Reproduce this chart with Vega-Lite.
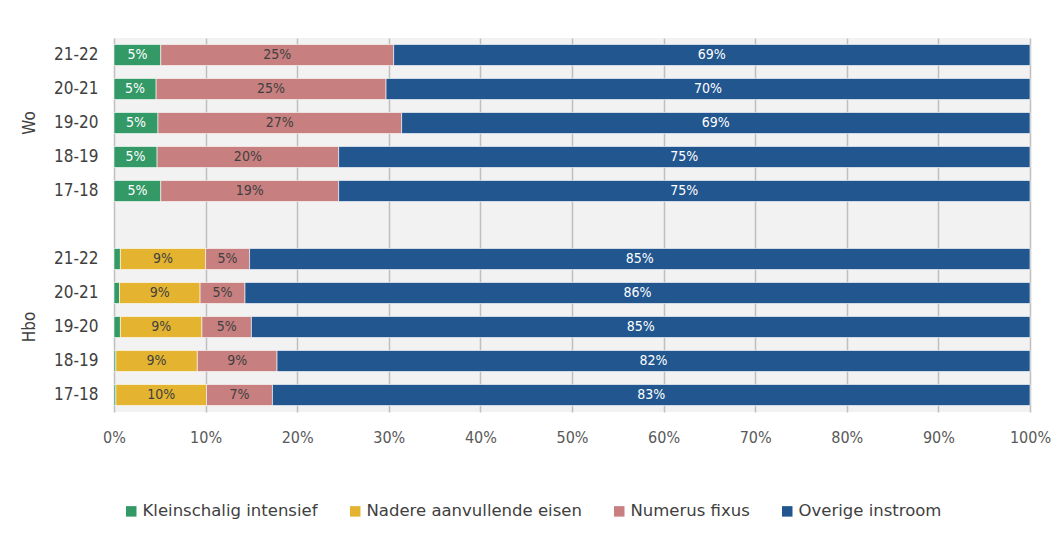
{
  "$schema": "https://vega.github.io/schema/vega-lite/v6.json",
  "width": 916,
  "height": 374,
  "padding": {"left": 20, "top": 38, "right": 10, "bottom": 5},
  "background": "white",
  "config": {
    "view": {"fill": "#f2f2f2", "stroke": null},
    "font": "DejaVu Sans Condensed"
  },
  "data": {
    "values": [
      {"row": "Wo|21-22", "cat": "Kleinschalig intensief", "value": 0.051},
      {"row": "Wo|21-22", "cat": "Numerus fixus", "value": 0.254},
      {"row": "Wo|21-22", "cat": "Overige instroom", "value": 0.694},
      {"row": "Wo|20-21", "cat": "Kleinschalig intensief", "value": 0.046},
      {"row": "Wo|20-21", "cat": "Numerus fixus", "value": 0.251},
      {"row": "Wo|20-21", "cat": "Overige instroom", "value": 0.703},
      {"row": "Wo|19-20", "cat": "Kleinschalig intensief", "value": 0.048},
      {"row": "Wo|19-20", "cat": "Numerus fixus", "value": 0.266},
      {"row": "Wo|19-20", "cat": "Overige instroom", "value": 0.686},
      {"row": "Wo|18-19", "cat": "Kleinschalig intensief", "value": 0.047},
      {"row": "Wo|18-19", "cat": "Numerus fixus", "value": 0.198},
      {"row": "Wo|18-19", "cat": "Overige instroom", "value": 0.754},
      {"row": "Wo|17-18", "cat": "Kleinschalig intensief", "value": 0.051},
      {"row": "Wo|17-18", "cat": "Numerus fixus", "value": 0.194},
      {"row": "Wo|17-18", "cat": "Overige instroom", "value": 0.754},
      {"row": "Hbo|21-22", "cat": "Kleinschalig intensief", "value": 0.007},
      {"row": "Hbo|21-22", "cat": "Nadere aanvullende eisen", "value": 0.093},
      {"row": "Hbo|21-22", "cat": "Numerus fixus", "value": 0.048},
      {"row": "Hbo|21-22", "cat": "Overige instroom", "value": 0.852},
      {"row": "Hbo|20-21", "cat": "Kleinschalig intensief", "value": 0.006},
      {"row": "Hbo|20-21", "cat": "Nadere aanvullende eisen", "value": 0.088},
      {"row": "Hbo|20-21", "cat": "Numerus fixus", "value": 0.049},
      {"row": "Hbo|20-21", "cat": "Overige instroom", "value": 0.857},
      {"row": "Hbo|19-20", "cat": "Kleinschalig intensief", "value": 0.007},
      {"row": "Hbo|19-20", "cat": "Nadere aanvullende eisen", "value": 0.089},
      {"row": "Hbo|19-20", "cat": "Numerus fixus", "value": 0.054},
      {"row": "Hbo|19-20", "cat": "Overige instroom", "value": 0.850},
      {"row": "Hbo|18-19", "cat": "Kleinschalig intensief", "value": 0.002},
      {"row": "Hbo|18-19", "cat": "Nadere aanvullende eisen", "value": 0.089},
      {"row": "Hbo|18-19", "cat": "Numerus fixus", "value": 0.087},
      {"row": "Hbo|18-19", "cat": "Overige instroom", "value": 0.822},
      {"row": "Hbo|17-18", "cat": "Kleinschalig intensief", "value": 0.002},
      {"row": "Hbo|17-18", "cat": "Nadere aanvullende eisen", "value": 0.099},
      {"row": "Hbo|17-18", "cat": "Numerus fixus", "value": 0.072},
      {"row": "Hbo|17-18", "cat": "Overige instroom", "value": 0.827}
    ]
  },
  "layer": [
    {
      "mark": {"type": "bar", "size": 21, "stroke": "#ffffff", "strokeWidth": 0.6},
      "encoding": {
        "y": {
          "field": "row", "type": "nominal",
          "scale": {"domain": ["Wo|21-22", "Wo|20-21", "Wo|19-20", "Wo|18-19", "Wo|17-18", "gap|", "Hbo|21-22", "Hbo|20-21", "Hbo|19-20", "Hbo|18-19", "Hbo|17-18"], "paddingInner": 0, "paddingOuter": 0},
          "axis": {"title": null, "orient": "left", "labelExpr": "split(datum.value, '|')[1]", "ticks": false, "domain": false, "grid": false, "labelFontSize": 17, "labelColor": "#404040", "labelPadding": 16}
        },
        "x": {
          "field": "value", "type": "quantitative", "stack": "normalize",
          "scale": {"domain": [0, 1], "nice": false},
          "axis": {"title": null, "format": ".0%", "values": [0, 0.1, 0.2, 0.3, 0.4, 0.5, 0.6, 0.7, 0.8, 0.9, 1], "grid": true, "gridColor": "#bfbfbf", "gridWidth": 1.5, "domain": false, "ticks": false, "labelFlush": false, "labelFontSize": 16, "labelColor": "#595959", "labelPadding": 17}
        },
        "color": {
          "field": "cat", "type": "nominal",
          "scale": {"domain": ["Kleinschalig intensief", "Nadere aanvullende eisen", "Numerus fixus", "Overige instroom"], "range": ["#339966", "#e4b430", "#c77f7f", "#22568f"]},
          "legend": {"title": null, "orient": "none", "legendX": 9, "legendY": 465, "direction": "horizontal", "symbolType": "square", "symbolSize": 110, "symbolStrokeWidth": 0, "labelFont": "DejaVu Sans", "labelFontSize": 16.5, "labelColor": "#404040", "labelLimit": 0, "columnPadding": 29, "labelOffset": 3}
        }
      }
    },
    {
      "transform": [
        {"stack": "value", "groupby": ["row"], "sort": [{"field": "cat"}], "offset": "normalize", "as": ["x0", "x1"]},
        {"calculate": "(datum.x0 + datum.x1) / 2", "as": "xmid"}
      ],
      "mark": {"type": "text", "fontSize": 14},
      "encoding": {
        "y": {"field": "row", "type": "nominal", "axis": null},
        "x": {"field": "xmid", "type": "quantitative"},
        "text": {"condition": {"test": "datum.value < 0.03", "value": ""}, "field": "value", "type": "quantitative", "format": ".0%"},
        "color": {
          "field": "cat", "type": "nominal",
          "scale": {"domain": ["Kleinschalig intensief", "Nadere aanvullende eisen", "Numerus fixus", "Overige instroom"], "range": ["#ffffff", "#404040", "#404040", "#ffffff"]},
          "legend": null
        }
      }
    },
    {
      "mark": {"type": "point", "opacity": 0},
      "encoding": {
        "y": {
          "field": "row", "type": "nominal",
          "axis": {"title": null, "orient": "left", "offset": 70, "labelPadding": 6, "labelExpr": "datum.value == 'Wo|19-20' ? 'Wo' : (datum.value == 'Hbo|19-20' ? 'Hbo' : '')", "labelAngle": 270, "labelAlign": "center", "labelBaseline": "bottom", "ticks": false, "domain": false, "grid": false, "labelFontSize": 17, "labelColor": "#404040"}
        }
      }
    }
  ],
  "resolve": {"scale": {"color": "independent"}, "axis": {"y": "independent"}}
}
